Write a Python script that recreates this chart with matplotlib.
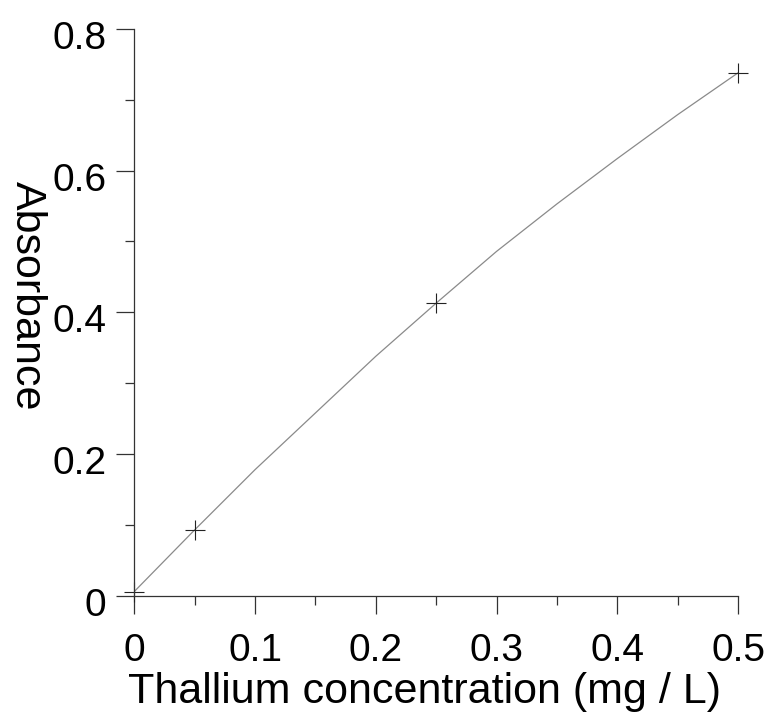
"""Thallium calibration curve (absorbance vs concentration)"""
import matplotlib
matplotlib.use('Agg')
import matplotlib.pyplot as plt
import matplotlib.transforms as mtransforms
from matplotlib.ticker import MultipleLocator

plt.rcParams['font.family'] = ['Liberation Sans', 'DejaVu Sans']

# standards (markers)
conc_std = [0.0, 0.05, 0.25, 0.5]
abs_std = [0.006, 0.093, 0.413, 0.738]

# calibration curve
conc_curve = [0.0, 0.05, 0.10, 0.15, 0.20, 0.25, 0.30, 0.35, 0.40, 0.45, 0.50]
abs_curve = [0.006, 0.093, 0.178, 0.258, 0.338, 0.413, 0.486, 0.553, 0.617, 0.679, 0.738]

x_ticks = [0, 0.1, 0.2, 0.3, 0.4, 0.5]
x_ticklabels = ['0', '0.1', '0.2', '0.3', '0.4', '0.5']
y_ticks = [0, 0.2, 0.4, 0.6, 0.8]
y_ticklabels = ['0', '0.2', '0.4', '0.6', '0.8']

fig = plt.figure(figsize=(7.72, 7.23), dpi=100)
ax = fig.add_axes([0.174, 0.176, 0.782, 0.784])

ax.plot(conc_curve, abs_curve, color='#8a8a8a', linewidth=0.9)
ax.plot(conc_std, abs_std, linestyle='none', marker='+', markersize=15,
        markeredgewidth=0.8, color='#222222', clip_on=False)

ax.set_xlim(0, 0.5)
ax.set_ylim(0, 0.8)
ax.set_xticks(x_ticks)
ax.set_xticklabels(x_ticklabels)
ax.set_yticks(y_ticks)
ax.set_yticklabels(y_ticklabels)
ax.xaxis.set_minor_locator(MultipleLocator(0.05))
ax.yaxis.set_minor_locator(MultipleLocator(0.1))

for side in ['top', 'right']:
    ax.spines[side].set_visible(False)
for side in ['left', 'bottom']:
    ax.spines[side].set_linewidth(0.9)
    ax.spines[side].set_color('#333333')

ax.tick_params(axis='both', which='major', direction='out', length=13, width=0.9,
               colors='#333333', labelcolor='black', labelsize=28)
ax.tick_params(axis='both', which='minor', direction='out', length=6.5, width=0.9,
               colors='#333333')
ax.tick_params(axis='x', which='major', pad=14)
ax.tick_params(axis='y', which='major', pad=7)

# y tick labels sit a little below their ticks in the original
offset = mtransforms.ScaledTranslation(0, -0.06, fig.dpi_scale_trans)
for lbl in ax.get_yticklabels():
    lbl.set_transform(lbl.get_transform() + offset)

ax.set_xlabel('Thallium concentration (mg / L)', fontsize=31, va='top')
ax.xaxis.set_label_coords(0.48, -0.135)
ax.set_ylabel('Absorbance', fontsize=31, rotation=270, va='center', ha='center')
ax.yaxis.set_label_coords(-0.178, 0.53)

plt.savefig('out.png', dpi=100)
